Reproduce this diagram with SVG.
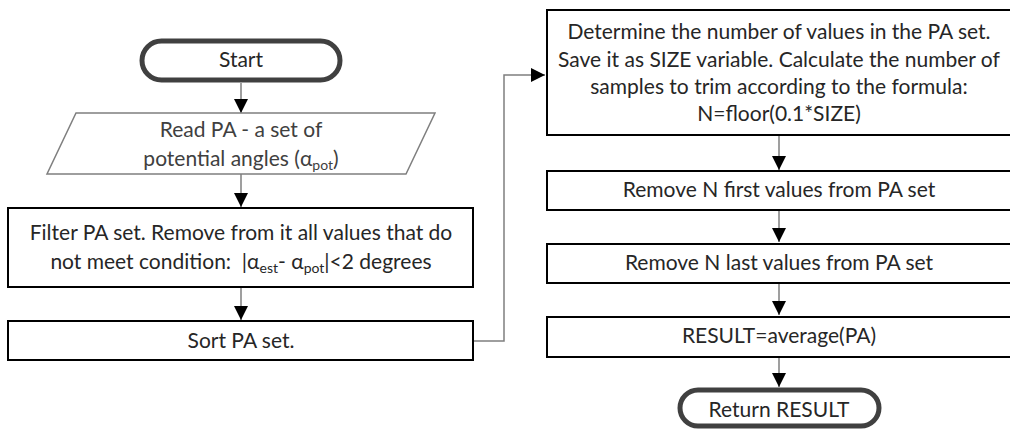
<svg xmlns="http://www.w3.org/2000/svg" width="1010" height="430" viewBox="0 0 1010 430">
<style>
.box{fill:#fff;stroke:#000;stroke-width:2}
.term{fill:#fff;stroke:#404040;stroke-width:5}
.io{fill:#fff;stroke:#7f7f7f;stroke-width:1.5}
.t{font-family:Lato,"Liberation Sans",sans-serif;font-size:21px;fill:#262626;text-anchor:middle}
.tio{fill:#404040}
.sub{font-size:14px}
.c{fill:none;stroke:#7f7f7f;stroke-width:1.5}
</style>
<defs>
<marker id="ah" markerUnits="userSpaceOnUse" markerWidth="15" markerHeight="15" refX="14" refY="7" orient="auto">
<path d="M0,0 L14,7 L0,14 z" fill="#000"/>
</marker>
</defs>
<g id="connectors">
<line class="c" x1="241" y1="83" x2="241" y2="113" marker-end="url(#ah)"/>
<line class="c" x1="241" y1="174" x2="241" y2="207" marker-end="url(#ah)"/>
<line class="c" x1="241" y1="288" x2="241" y2="320" marker-end="url(#ah)"/>
<polyline class="c" points="474,341 504,341 504,75 545,75" marker-end="url(#ah)"/>
<line class="c" x1="779" y1="136" x2="779" y2="170" marker-end="url(#ah)"/>
<line class="c" x1="779" y1="210" x2="779" y2="242" marker-end="url(#ah)"/>
<line class="c" x1="779" y1="283" x2="779" y2="315" marker-end="url(#ah)"/>
<line class="c" x1="779" y1="357" x2="779" y2="387" marker-end="url(#ah)"/>
</g>
<g id="start">
<rect class="term" x="142" y="41" width="198" height="39" rx="19.5"/>
<text class="t" x="241" y="67">Start</text>
</g>
<g id="read">
<polygon class="io" points="76,113 435,113 406,174 47,174"/>
<text class="t tio" x="241" y="137">Read PA - a set of</text>
<text class="t tio" x="241" y="166">potential angles (α<tspan class="sub" dy="4">pot</tspan><tspan dy="-4">)</tspan></text>
</g>
<g id="filter">
<rect class="box" x="8" y="208" width="465" height="79"/>
<text class="t" x="241" y="240">Filter PA set. Remove from it all values that do</text>
<text class="t" x="241" y="269" xml:space="preserve">not meet condition:  |α<tspan class="sub" dy="4">est</tspan><tspan dy="-4">- α</tspan><tspan class="sub" dy="4">pot</tspan><tspan dy="-4">|&lt;2 degrees</tspan></text>
</g>
<g id="sort">
<rect class="box" x="8" y="321" width="465" height="39"/>
<text class="t" x="241" y="348">Sort PA set.</text>
</g>
<g id="determine">
<rect class="box" x="547" y="10" width="470" height="125"/>
<text class="t" x="779" y="39">Determine the number of values in the PA set.</text>
<text class="t" x="779" y="67">Save it as SIZE variable. Calculate the number of</text>
<text class="t" x="779" y="94">samples to trim according to the formula:</text>
<text class="t" x="779" y="121">N=floor(0.1*SIZE)</text>
</g>
<g id="removeFirst">
<rect class="box" x="547" y="171" width="470" height="39"/>
<text class="t" x="779" y="197">Remove N first values from PA set</text>
</g>
<g id="removeLast">
<rect class="box" x="547" y="244" width="470" height="39"/>
<text class="t" x="779" y="270">Remove N last values from PA set</text>
</g>
<g id="result">
<rect class="box" x="547" y="317" width="470" height="40"/>
<text class="t" x="779" y="343">RESULT=average(PA)</text>
</g>
<g id="return">
<rect class="term" x="680" y="390" width="199" height="36" rx="18"/>
<text class="t" x="779" y="417">Return RESULT</text>
</g>
</svg>
